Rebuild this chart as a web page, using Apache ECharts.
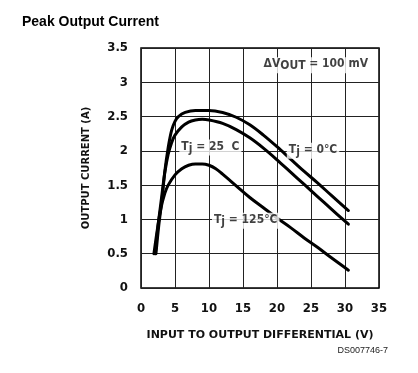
<!DOCTYPE html>
<html><head><meta charset="utf-8">
<script src="https://cdn.jsdelivr.net/npm/echarts@6/dist/echarts.min.js"></script>
<style>html,body{margin:0;padding:0;background:#fff}#c{width:418px;height:373px}</style>
</head><body><div id="c"></div>
<script>
// Data (x: input-output differential V, y: output current A)
const xTicks = [0,5,10,15,20,25,30,35];
const yTicks = [0,0.5,1,1.5,2,2.5,3,3.5];
const tj0 = [[2.2,0.5],[2.6,0.9],[3.1,1.3],[3.5,1.7],[4,2.05],[4.5,2.3],[5,2.43],[5.5,2.5],[6.5,2.56],[8,2.59],[10,2.59],[12,2.56],[14,2.49],[16,2.38],[18,2.23],[20,2.06],[22,1.88],[24,1.7],[26,1.53],[28,1.35],[30.5,1.13]];
const tj25 = [[2.1,0.5],[2.5,0.9],[3.0,1.3],[3.5,1.68],[4,1.95],[4.5,2.12],[5,2.23],[6,2.35],[7,2.42],[8,2.45],[9,2.46],[10,2.45],[12,2.4],[14,2.31],[16,2.19],[18,2.04],[20,1.87],[22,1.69],[24,1.51],[26,1.33],[28,1.15],[30.5,0.93]];
const tj125 = [[1.9,0.5],[2.4,0.85],[2.9,1.15],[3.5,1.38],[4,1.5],[5,1.65],[6,1.74],[7,1.79],[8,1.81],[9,1.81],[10,1.79],[11,1.74],[12,1.66],[14,1.49],[16,1.32],[18,1.17],[20,1.02],[22,0.88],[24,0.73],[26,0.59],[28,0.44],[30.5,0.26]];
const annotations = [
  {pos:[10.2,2.05], parts:['T','j',' = 25  C']},
  {pos:[25.3,2.0], parts:['T','j',' = 0°C']},
  {pos:[15.4,0.98], parts:['T','j',' = 125°C']},
  {pos:[25.7,3.25], parts:['ΔV','OUT',' = 100 mV']}
];

const tickFont = {fontFamily:'"Liberation Sans Narrow","DejaVu Sans Condensed",sans-serif', fontWeight:'bold', fontSize:13, color:'#111'};
const chart = echarts.init(document.getElementById('c'), null, {renderer:'canvas'});

function lineSeries(data){
  return {type:'line', data:data, smooth:0.35, symbol:'none', lineStyle:{color:'#000', width:3, join:'round', cap:'round'}, z:3, silent:true};
}
const labelSeries = {
  type:'scatter', symbolSize:0, z:5, silent:true,
  data: annotations.map(a => ({value:a.pos, parts:a.parts})),
  label:{
    show:true, position:'inside',
    formatter: p => '{n|' + p.data.parts[0] + '}{s|' + p.data.parts[1] + '}{n|' + p.data.parts[2] + '}',
    backgroundColor:'#fff', padding:[1,2,1,2],
    rich:{
      n:{fontFamily:'"Liberation Sans Narrow","DejaVu Sans Condensed",sans-serif', fontWeight:'bold', fontSize:12, color:'#111', verticalAlign:'top', lineHeight:14},
      s:{fontFamily:'"Liberation Sans Narrow","DejaVu Sans Condensed",sans-serif', fontWeight:'bold', fontSize:12, color:'#111', verticalAlign:'bottom', padding:[6,0,0,0], lineHeight:14}
    }
  }
};

chart.setOption({
  animation:false,
  backgroundColor:'#fff',
  title:{text:'Peak Output Current', left:17, top:10, textStyle:{fontFamily:'"Liberation Sans",Arial,sans-serif', fontWeight:'bold', fontSize:14, color:'#000'}},
  grid:{left:141, top:48, width:238, height:240, show:true, borderColor:'#000', borderWidth:1.5},
  xAxis:{type:'value', min:0, max:35, interval:5,
    name:'INPUT TO OUTPUT DIFFERENTIAL (V)', nameLocation:'middle', nameGap:42,
    nameTextStyle:{fontFamily:'"DejaVu Sans",sans-serif', fontWeight:'bold', fontSize:11, color:'#111'},
    axisLine:{show:false}, axisTick:{show:false},
    axisLabel:Object.assign({margin:14, formatter:v=>xTicks.includes(v)?String(v):''}, tickFont),
    splitLine:{show:true, lineStyle:{color:'#222', width:1}}},
  yAxis:{type:'value', min:0, max:3.5, interval:0.5,
    name:'OUTPUT CURRENT (A)', nameLocation:'middle', nameGap:50, nameRotate:90,
    nameTextStyle:{fontFamily:'"DejaVu Sans",sans-serif', fontWeight:'bold', fontSize:10, color:'#111'},
    axisLine:{show:false}, axisTick:{show:false},
    axisLabel:Object.assign({margin:13, formatter:v=>yTicks.includes(v)?String(v):''}, tickFont),
    splitLine:{show:true, lineStyle:{color:'#222', width:1}}},
  graphic:[{type:'text', right:30, top:346, style:{text:'DS007746-7', font:'9px "Liberation Sans", Arial, sans-serif', fill:'#222'}}],
  series:[lineSeries(tj0), lineSeries(tj25), lineSeries(tj125), labelSeries]
});
</script></body></html>
